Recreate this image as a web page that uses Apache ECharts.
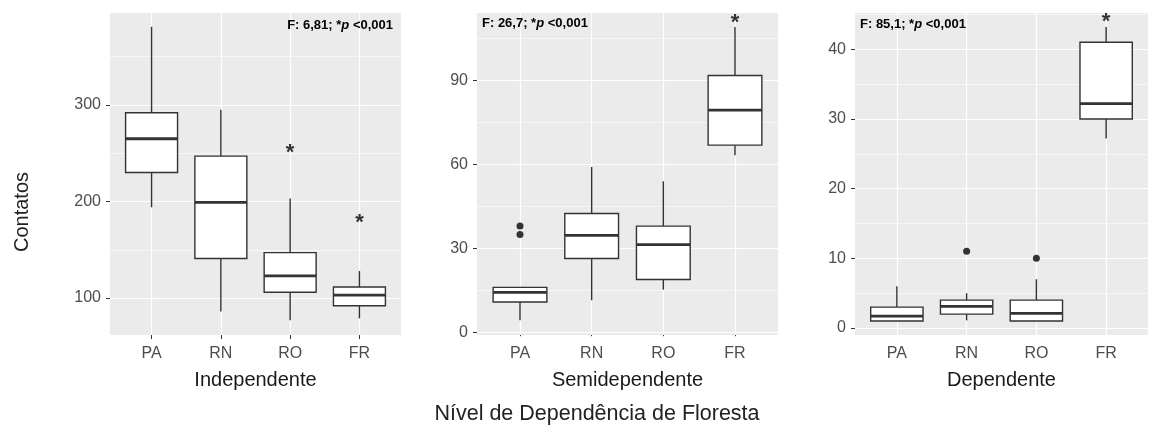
<!DOCTYPE html>
<html>
<head>
<meta charset="utf-8">
<script src="https://cdn.jsdelivr.net/npm/echarts@6/dist/echarts.min.js"></script>
<style>
  html, body { margin: 0; padding: 0; background: #fff; }
  #chart { width: 1149px; height: 428px; }
</style>
</head>
<body>
<div id="chart"></div>
<script>
// categorias e paineis
var categorias = ['PA', 'RN', 'RO', 'FR'];
var paineis = ['Independente', 'Semidependente', 'Dependente'];
var estatF = ['6,81', '26,7', '85,1'];

// [min, Q1, mediana, Q3, max] para cada categoria
var indepBox = [[194, 230, 265, 292, 381], [86, 141, 199, 247, 295], [77, 106, 123, 147, 203], [79, 92, 103, 111.5, 128]];
var semiBox = [[4.3, 10.8, 14.2, 16, 16], [11.4, 26.3, 34.6, 42.4, 59], [15.2, 18.8, 31.3, 37.9, 53.9], [63.2, 66.8, 79.3, 91.7, 109]];
var depBox = [[1, 1, 1.7, 3, 6], [1.1, 2, 3.1, 4, 5], [1, 1, 2.1, 4, 7], [27.2, 30, 32.2, 41, 43.2]];

// pontos extremos [categoria, valor]
var indepOut = [];
var semiOut = [['PA', 34.9], ['PA', 37.9]];
var depOut = [['RN', 11], ['RO', 10]];

// asteriscos de significancia [categoria, valor]
var indepStar = [['RO', 253], ['FR', 181]];
var semiStar = [['FR', 111.7]];
var depStar = [['FR', 44.4]];

// marcas do eixo y
var indepTicks = [100, 200, 300];
var semiTicks = [0, 30, 60, 90];
var depTicks = [0, 10, 20, 30, 40];
var indepMinor = [150, 250, 350];
var semiMinor = [15, 45, 75, 105];
var depMinor = [5, 15, 25, 35, 45];

var boxes = [indepBox, semiBox, depBox];
var outs = [indepOut, semiOut, depOut];
var stars = [indepStar, semiStar, depStar];
var ticks = [indepTicks, semiTicks, depTicks];
var minors = [indepMinor, semiMinor, depMinor];
var yMin = [61.7, -1.0, -1.0];
var yMax = [395.3, 114, 45.2];

var font = 'Liberation Sans, Arial, sans-serif';
var catPos = categorias.map(function (c, k) { return k + 1; });

var grids = [
  { left: 110, top: 13, width: 291, height: 322 },
  { left: 477, top: 13, width: 301, height: 322 },
  { left: 855, top: 13, width: 293, height: 322 }
];

function renderBox(params, api) {
  var x = api.value(0);
  var lo = api.coord([x, api.value(1)]);
  var q1 = api.coord([x, api.value(2)]);
  var md = api.coord([x, api.value(3)]);
  var q3 = api.coord([x, api.value(4)]);
  var hi = api.coord([x, api.value(5)]);
  var half = api.size([0.75, 0])[0] / 2;
  return {
    type: 'group',
    children: [
      { type: 'line', shape: { x1: lo[0], y1: lo[1], x2: q1[0], y2: q1[1] }, style: { stroke: '#333', lineWidth: 1.4 } },
      { type: 'line', shape: { x1: q3[0], y1: q3[1], x2: hi[0], y2: hi[1] }, style: { stroke: '#333', lineWidth: 1.4 } },
      { type: 'rect', shape: { x: q3[0] - half, y: q3[1], width: half * 2, height: q1[1] - q3[1] }, style: { fill: '#fff', stroke: '#333', lineWidth: 1.4 } },
      { type: 'line', shape: { x1: md[0] - half, y1: md[1], x2: md[0] + half, y2: md[1] }, style: { stroke: '#333', lineWidth: 2.8 } }
    ]
  };
}

var xAxis = [];
var yAxis = [];
var series = [];
var graphic = [];

paineis.forEach(function (nome, i) {
  xAxis.push({
    type: 'value', gridIndex: i, min: 0.4, max: 4.6,
    name: nome, nameLocation: 'middle', nameGap: 35,
    nameTextStyle: { fontSize: 20, color: '#1a1a1a', fontFamily: font },
    axisLine: { show: false },
    axisTick: { show: true, length: 4, lineStyle: { color: '#333', width: 1 }, customValues: catPos },
    axisLabel: {
      customValues: catPos, margin: 11, fontSize: 16, color: '#4d4d4d', fontFamily: font,
      formatter: function (v) { return categorias[Math.round(v) - 1]; }
    },
    splitLine: { show: false }
  });
  yAxis.push({
    type: 'value', gridIndex: i, min: yMin[i], max: yMax[i],
    axisLine: { show: false },
    axisTick: { show: true, length: 4, lineStyle: { color: '#333', width: 1 }, customValues: ticks[i] },
    axisLabel: { customValues: ticks[i], margin: 9, fontSize: 16, color: '#4d4d4d', fontFamily: font },
    splitLine: { show: false }
  });

  // linhas de grade
  var linhas = [];
  minors[i].forEach(function (v) { linhas.push({ yAxis: v, lineStyle: { width: 0.6 } }); });
  ticks[i].forEach(function (v) { linhas.push({ yAxis: v, lineStyle: { width: 1.2 } }); });
  catPos.forEach(function (v) { linhas.push({ xAxis: v, lineStyle: { width: 1.2 } }); });
  series.push({
    type: 'line', xAxisIndex: i, yAxisIndex: i, data: [], z: 1, silent: true,
    markLine: {
      z: 1, silent: true, symbol: ['none', 'none'], label: { show: false },
      lineStyle: { color: '#fff', type: 'solid' },
      emphasis: { disabled: true },
      data: linhas
    }
  });

  series.push({
    type: 'custom', xAxisIndex: i, yAxisIndex: i, z: 2, silent: true,
    renderItem: renderBox,
    encode: { x: 0, y: [1, 2, 3, 4, 5] },
    data: boxes[i].map(function (b, k) { return [k + 1].concat(b); })
  });

  series.push({
    type: 'scatter', xAxisIndex: i, yAxisIndex: i, z: 3, silent: true,
    symbolSize: 7, itemStyle: { color: '#333', opacity: 1 },
    data: outs[i].map(function (o) { return [categorias.indexOf(o[0]) + 1, o[1]]; })
  });

  series.push({
    type: 'scatter', xAxisIndex: i, yAxisIndex: i, z: 4, silent: true,
    symbolSize: 1, itemStyle: { color: 'transparent' },
    label: { show: true, position: 'inside', formatter: '*', fontSize: 22, fontWeight: 'bold', color: '#000', fontFamily: font, offset: [0, 3] },
    data: stars[i].map(function (o) { return [categorias.indexOf(o[0]) + 1, o[1]]; })
  });
});

// anotacoes F
var anotX = [393, 482, 860];
var anotAlign = ['right', 'left', 'left'];
var anotY = [25, 23, 24];
estatF.forEach(function (f, i) {
  graphic.push({
    type: 'text', x: anotX[i], y: anotY[i], z: 10,
    style: {
      text: '{b|F: ' + f + '; *}{i|p}{b| <0,001}',
      align: anotAlign[i], verticalAlign: 'middle',
      rich: {
        b: { fontSize: 13, fontWeight: 'bold', fontFamily: font, fill: '#000' },
        i: { fontSize: 13, fontWeight: 'bold', fontStyle: 'italic', fontFamily: font, fill: '#000' }
      }
    }
  });
});

graphic.push({
  type: 'text', x: 22, y: 212, rotation: Math.PI / 2,
  style: { text: 'Contatos', fontSize: 20, fontFamily: font, fill: '#222', align: 'center', verticalAlign: 'middle' }
});
graphic.push({
  type: 'text', x: 597, y: 414,
  style: { text: 'Nível de Dependência de Floresta', fontSize: 21.5, fontFamily: font, fill: '#222', align: 'center', verticalAlign: 'middle' }
});

var chart = echarts.init(document.getElementById('chart'));
var option = {
  animation: false,
  backgroundColor: '#fff',
  grid: grids.map(function (g) {
    return { left: g.left, top: g.top, width: g.width, height: g.height, show: true, backgroundColor: '#ebebeb', borderWidth: 0 };
  }),
  xAxis: xAxis,
  yAxis: yAxis,
  series: series,
  graphic: graphic
};
chart.setOption(option);
</script>
</body>
</html>
